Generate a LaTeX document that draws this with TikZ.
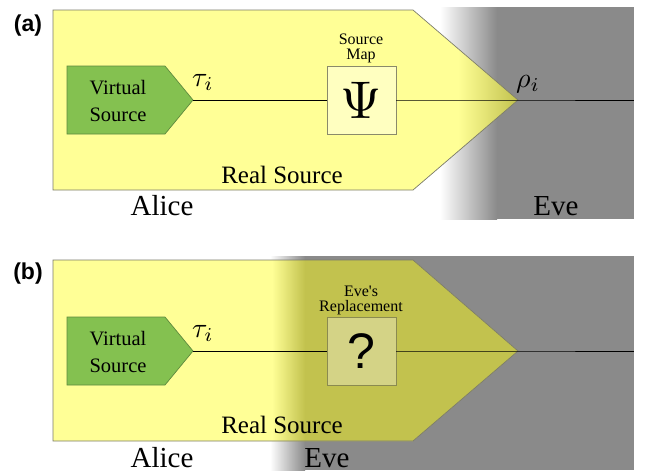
\documentclass[tikz,border=0pt]{standalone}
\usepackage{fontspec}
\setmainfont{Liberation Serif}
\newfontfamily\panelfont{Liberation Sans}
\usetikzlibrary{calc}

\definecolor{srcyellow}{HTML}{FFFF96}
\definecolor{srcolive}{HTML}{C2C24E}
\definecolor{evegray}{HTML}{8A8A8A}
\definecolor{srcborder}{HTML}{7A7A6A}
\definecolor{vsfill}{HTML}{84C150}
\definecolor{vsborder}{HTML}{5E8A3E}
\definecolor{mapfill}{HTML}{FFFFC0}
\definecolor{mapborder}{HTML}{8A8A6A}
\definecolor{qfill}{HTML}{D4D386}
\definecolor{qborder}{HTML}{8A8A50}

\newcommand{\bigsym}[1]{\scalebox{2.8}{$#1$}}

\tikzset{
  pentA/.style={insert path={(53,10) -- (413,10) -- (518,100) -- (413,190) -- (53,190) -- cycle}},
  pentB/.style={insert path={(53,260) -- (413,260) -- (518,351) -- (413,441) -- (53,441) -- cycle}},
  srcedge/.style={draw=srcborder, line width=0.7pt},
  vsrc/.style={fill=vsfill, draw=vsborder, line width=0.7pt},
  vstext/.style={align=center, font=\fontsize{20.5}{27}\selectfont},
  mapbox/.style={draw=mapborder, fill=mapfill, line width=0.8pt, minimum width=69, minimum height=68, inner sep=0pt},
  qbox/.style={draw=qborder, fill=qfill, line width=0.8pt, minimum width=69, minimum height=68, inner sep=0pt},
  caption/.style={align=center, font=\fontsize{16}{15}\selectfont, inner sep=0pt},
  wire/.style={line width=0.9pt, black},
  sym/.style={inner sep=0pt, anchor=base west},
  bigtext/.style={anchor=base, inner sep=0pt, font=\fontsize{25}{28}\selectfont},
  party/.style={anchor=base, inner sep=0pt, font=\fontsize{29}{32}\selectfont},
  panel/.style={anchor=base, inner sep=0pt, font=\panelfont\bfseries\fontsize{23}{26}\selectfont},
}

\begin{document}
\begin{tikzpicture}[x=1pt, y=-1pt]
\useasboundingbox (0,0) rectangle (646,472);

% ---------------- panel (a) ----------------
% Eve's region, fading in from the left
\fill[evegray] (497,7) rectangle (634,219);
\shade[left color=white, right color=evegray] (440,7) rectangle (497,219);

% the real source
\fill[srcyellow, pentA];
\begin{scope}
  \clip[pentA];
  \shade[left color=srcyellow, right color=srcolive] (458,7) rectangle (518,219);
\end{scope}
\path[srcedge, pentA];

% the virtual source
\draw[vsrc] (67,66) -- (165,66) -- (193,100) -- (165,134) -- (67,134) -- cycle;
\coordinate (vsA) at (193,100);
\node[vstext] (vsAtext) at (118,101) {Virtual\\Source};

% source map
\node[mapbox] (psiA) at (361.5,100) {\scalebox{5.3}{$\Psi$}};
\node[caption, anchor=south] (mapA) at (361,63) {Source\\Map};

\coordinate (tipA) at (518,100);
\coordinate (endA) at (634,100);
\draw[wire] (vsA) -- (psiA.west);
\draw[wire] (psiA.east) -- (tipA) -- (endA);

\node[sym] (tauA) at (192,86) {\bigsym{\tau_i}};
\node[sym] (rhoA) at (516,87) {\bigsym{\rho_i}};

\node[bigtext] (realA) at (282,183) {Real Source};
\node[party] (aliceA) at (162,215) {Alice};
\node[party] (eveA) at (556,215) {Eve};
\node[panel] (labA) at (28,31) {(a)};

% ---------------- panel (b) ----------------
% Eve's region, fading in from the left
\fill[evegray] (305,256) rectangle (634,470);
\shade[left color=white, right color=evegray] (270,256) rectangle (305,470);

% the real source, partly taken over by Eve
\fill[srcyellow, pentB];
\begin{scope}
  \clip[pentB];
  \fill[srcolive] (304,256) rectangle (520,445);
  \shade[left color=srcyellow, right color=srcolive] (272,256) rectangle (305,445);
\end{scope}
\path[srcedge, pentB];

% the virtual source
\draw[vsrc] (67,317) -- (165,317) -- (193,351) -- (165,385) -- (67,385) -- cycle;
\coordinate (vsB) at (193,351);
\node[vstext] (vsBtext) at (118,352) {Virtual\\Source};

% Eve's replacement of the source map
\node[qbox] (qB) at (361.5,351) {\panelfont\fontsize{50}{50}\selectfont ?};
\node[caption, anchor=south] (replB) at (361,315) {Eve\textquotesingle s\\Replacement};

\coordinate (tipB) at (518,351);
\coordinate (endB) at (634,351);
\draw[wire] (vsB) -- (qB.west);
\draw[wire] (qB.east) -- (tipB) -- (endB);

\node[sym] (tauB) at (192,337) {\bigsym{\tau_i}};

\node[bigtext] (realB) at (282,433) {Real Source};
\node[party] (aliceB) at (162,467) {Alice};
\node[party] (eveB) at (327,467) {Eve};
\node[panel] (labB) at (28,279) {(b)};
\end{tikzpicture}
\end{document}
